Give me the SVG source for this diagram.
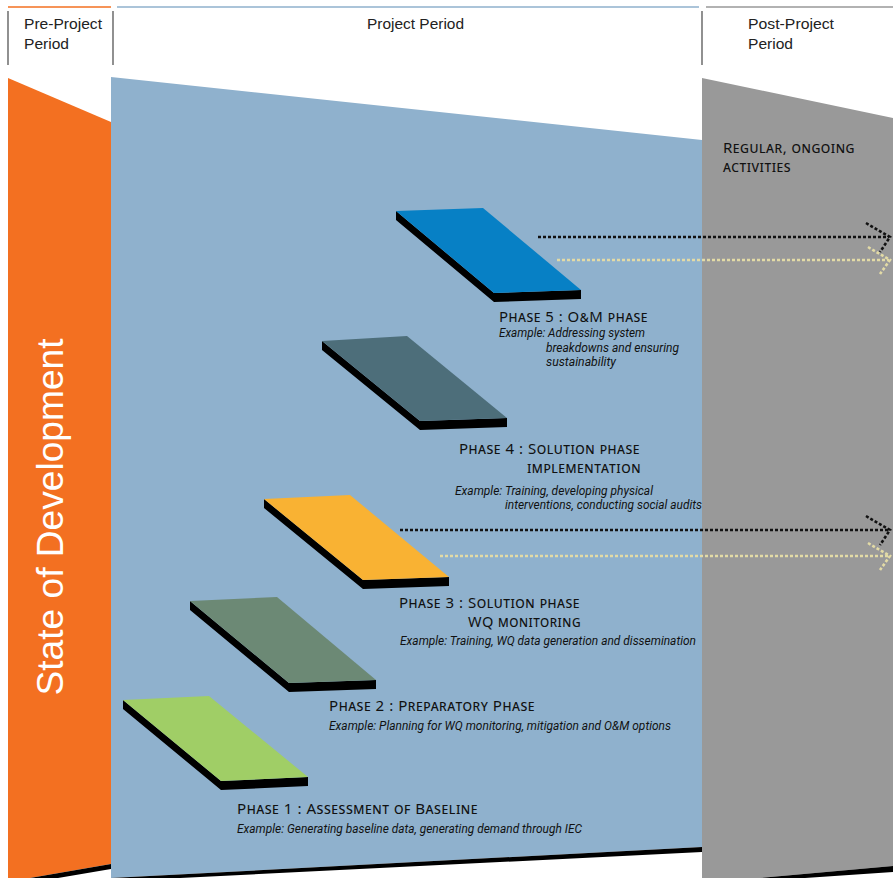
<svg xmlns="http://www.w3.org/2000/svg" width="893" height="878" viewBox="0 0 893 878">
<style>
.hdr{font-family:"Liberation Sans",Arial,sans-serif;font-size:15.5px;fill:#222}
.sep{stroke:#555;stroke-width:1.3}
.ttl{font-family:"Noto Sans","Open Sans",sans-serif;font-size:15px;font-variant:small-caps;fill:#111;letter-spacing:0.5px}
.ex{font-family:Roboto,"Liberation Sans",sans-serif;font-size:12px;font-style:italic;fill:#111}
.side{fill:#000}
.dk{fill:none;stroke:#111;stroke-width:2.6;stroke-dasharray:3 2}
.lt{fill:none;stroke:#E3DBA6;stroke-width:2.6;stroke-dasharray:3 2}
</style>
<rect width="893" height="878" fill="#fff"/>
<g id="header">
<line x1="8" y1="7" x2="111" y2="7" stroke="#F37021" stroke-width="1.5"/>
<line x1="117" y1="7" x2="699" y2="7" stroke="#8FB1CD" stroke-width="1.5"/>
<line x1="706" y1="7" x2="893" y2="7" stroke="#999" stroke-width="1.5"/>
<line class="sep" x1="8" y1="11" x2="8" y2="65"/>
<line class="sep" x1="113" y1="11" x2="113" y2="65"/>
<line class="sep" x1="702" y1="11" x2="702" y2="65"/>
<text class="hdr" x="24" y="29" textLength="78" lengthAdjust="spacingAndGlyphs">Pre-Project</text>
<text class="hdr" x="24" y="49" textLength="45" lengthAdjust="spacingAndGlyphs">Period</text>
<text class="hdr" x="367" y="29" textLength="97" lengthAdjust="spacingAndGlyphs">Project Period</text>
<text class="hdr" x="748" y="29" textLength="86" lengthAdjust="spacingAndGlyphs">Post-Project</text>
<text class="hdr" x="748" y="49" textLength="45" lengthAdjust="spacingAndGlyphs">Period</text>
</g>
<g id="panels">
<polygon points="8,78 111,122 111,864 30,878 8,878" fill="#F37021"/>
<polygon points="30,878 111,864 111,869 58,878" fill="#000"/>
<polygon points="111,77 702,140 702,847 111,878" fill="#8FB1CD"/>
<polygon points="111,878 702,847 702,852 180,878" fill="#000"/>
<polygon points="702,78 893,118 893,866 760,878 702,878" fill="#999999"/>
<polygon points="760,878 893,866 893,872 805,878" fill="#000"/>
<text x="0" y="0" transform="translate(63,517) rotate(-90)" text-anchor="middle" font-family="Liberation Sans, Arial, sans-serif" font-size="36" fill="#fff" textLength="357" lengthAdjust="spacingAndGlyphs">State of Development</text>
<text class="ttl" x="723" y="153" textLength="132" lengthAdjust="spacingAndGlyphs">Regular, ongoing</text>
<text class="ttl" x="723" y="172" textLength="68" lengthAdjust="spacingAndGlyphs">activities</text>
</g>
<g id="connectors">
<line class="dk" x1="538" y1="237" x2="889" y2="237"/>
<polyline class="dk" points="866,223 890,237 880,252"/>
<line class="lt" x1="557" y1="260" x2="889" y2="260"/>
<polyline class="lt" points="868,247 890,260 880,274"/>
<line class="dk" x1="400" y1="530" x2="889" y2="530"/>
<polyline class="dk" points="866,516 890,530 880,545"/>
<line class="lt" x1="440" y1="556" x2="889" y2="556"/>
<polyline class="lt" points="868,543 890,556 880,570"/>
</g>
<g id="phase5">
<polygon class="side" points="396,211 494,293 581,290 581,299 494,302 396,220"/>
<polygon points="396,211 483,208 581,290 494,293" fill="#0780C5"/>
<text class="ttl" x="499" y="322" textLength="149" lengthAdjust="spacingAndGlyphs">Phase 5 : O&amp;M phase</text>
<text class="ex" x="499" y="337" textLength="146" lengthAdjust="spacingAndGlyphs">Example: Addressing system</text>
<text class="ex" x="546" y="352" textLength="133" lengthAdjust="spacingAndGlyphs">breakdowns and ensuring</text>
<text class="ex" x="546" y="366" textLength="70" lengthAdjust="spacingAndGlyphs">sustainability</text>
</g>
<g id="phase4">
<polygon class="side" points="322,341 420,421 507,418 507,427 420,430 322,350"/>
<polygon points="322,341 407,336 507,418 420,421" fill="#4D6E7A"/>
<text class="ttl" x="459" y="454" textLength="181" lengthAdjust="spacingAndGlyphs">Phase 4 : Solution phase</text>
<text class="ttl" x="527" y="473" textLength="114" lengthAdjust="spacingAndGlyphs">implementation</text>
<text class="ex" x="455" y="495" textLength="198" lengthAdjust="spacingAndGlyphs">Example: Training, developing physical</text>
<text class="ex" x="505" y="509" textLength="197" lengthAdjust="spacingAndGlyphs">interventions, conducting social audits</text>
</g>
<g id="phase3">
<polygon class="side" points="264,499 363,580 449,577 449,586 363,589 264,508"/>
<polygon points="264,499 350,495 449,577 363,580" fill="#F9B233"/>
<text class="ttl" x="399" y="608" textLength="181" lengthAdjust="spacingAndGlyphs">Phase 3 : Solution phase</text>
<text class="ttl" x="468" y="627" textLength="113" lengthAdjust="spacingAndGlyphs">WQ monitoring</text>
<text class="ex" x="400" y="645" textLength="296" lengthAdjust="spacingAndGlyphs">Example: Training, WQ data generation and dissemination</text>
</g>
<g id="phase2">
<polygon class="side" points="190,601 289,683 376,680 376,689 289,692 190,610"/>
<polygon points="190,601 277,597 376,680 289,683" fill="#6C8975"/>
<text class="ttl" x="329" y="711" textLength="206" lengthAdjust="spacingAndGlyphs">Phase 2 : Preparatory Phase</text>
<text class="ex" x="329" y="730" textLength="342" lengthAdjust="spacingAndGlyphs">Example: Planning for WQ monitoring, mitigation and O&amp;M options</text>
</g>
<g id="phase1">
<polygon class="side" points="123,700 221,781 308,777 308,786 221,790 123,709"/>
<polygon points="123,700 209,696 308,777 221,781" fill="#A0CE66"/>
<text class="ttl" x="237" y="814" textLength="241" lengthAdjust="spacingAndGlyphs">Phase 1 : Assessment of Baseline</text>
<text class="ex" x="237" y="833" textLength="345" lengthAdjust="spacingAndGlyphs">Example: Generating baseline data, generating demand through IEC</text>
</g>
</svg>
